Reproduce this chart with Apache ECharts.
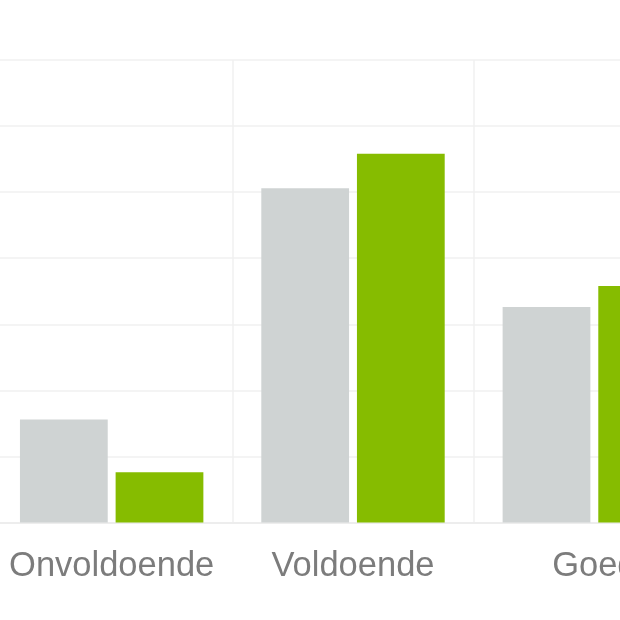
<!DOCTYPE html>
<html>
<head>
<meta charset="utf-8">
<script src="https://cdn.jsdelivr.net/npm/echarts@6/dist/echarts.min.js"></script>
<style>html,body{margin:0;padding:0;background:#fff;overflow:hidden;width:620px;height:620px;}#c{position:absolute;left:-9px;top:0;width:724px;height:620px;}</style>
</head>
<body>
<div id="c"></div>
<script>
var categories = ['Onvoldoende', 'Voldoende', 'Goed'];
var seriesGray = [7.8, 25.3, 16.3];
var seriesGreen = [3.8, 27.9, 17.9];

var chart = echarts.init(document.getElementById('c'), null, {renderer: 'canvas'});
chart.setOption({
  animation: false,
  backgroundColor: '#ffffff',
  grid: {left: 0, right: 0, top: 60, bottom: 97.5, containLabel: false},
  xAxis: {
    type: 'category',
    data: categories,
    axisTick: {show: false},
    axisLine: {show: true, lineStyle: {color: '#ebebeb', width: 1.5}},
    splitLine: {show: true, lineStyle: {color: '#f0f0f0', width: 1.5}},
    axisLabel: {interval: 0, color: '#7c7c7c', fontSize: 34.5, fontFamily: 'Liberation Sans', margin: 26, hideOverlap: false}
  },
  yAxis: {
    type: 'value',
    min: 0, max: 35, interval: 5,
    axisLabel: {show: false},
    axisLine: {show: false},
    axisTick: {show: false},
    splitLine: {show: true, lineStyle: {color: '#f0f0f0', width: 1.5}}
  },
  series: [
    {type: 'bar', data: seriesGray, itemStyle: {color: '#cfd3d3'}, barGap: '9%', barCategoryGap: '24%'},
    {type: 'bar', data: seriesGreen, itemStyle: {color: '#86bc00'}}
  ]
});
</script>
</body>
</html>
